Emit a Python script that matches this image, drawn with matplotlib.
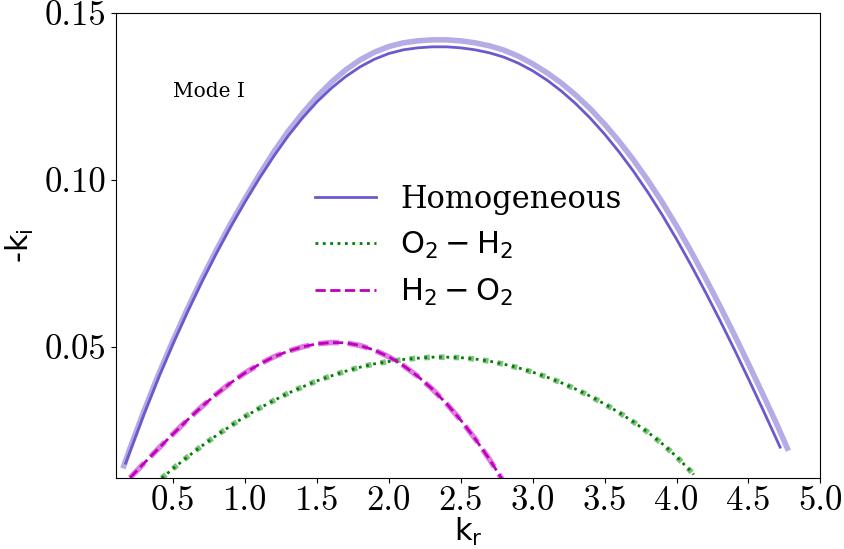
import matplotlib
matplotlib.use('Agg')
import matplotlib.pyplot as plt
from matplotlib.ticker import MultipleLocator

# homogeneous case, thin curve
kr_hom = [0.17, 0.2, 0.3, 0.4, 0.5, 0.6, 0.7, 0.8, 0.9, 1.0, 1.1, 1.2, 1.3, 1.4, 1.5,
          1.6, 1.7, 1.8, 1.9, 2.0, 2.1, 2.2, 2.3, 2.4, 2.5, 2.6, 2.7, 2.8, 2.9, 3.0,
          3.1, 3.2, 3.3, 3.4, 3.5, 3.6, 3.7, 3.8, 3.9, 4.0, 4.1, 4.2, 4.3, 4.4, 4.5,
          4.6, 4.7, 4.72]
ki_hom = [0.0150, 0.0185, 0.0300, 0.0408, 0.0509, 0.0604, 0.0694, 0.0779, 0.0859, 0.0934,
          0.1005, 0.1071, 0.1132, 0.1186, 0.1234, 0.1275, 0.1310, 0.1339, 0.1362, 0.1379,
          0.1390, 0.1396, 0.1399, 0.1399, 0.1396, 0.1390, 0.1381, 0.1368, 0.1350, 0.1327,
          0.1299, 0.1266, 0.1228, 0.1185, 0.1137, 0.1084, 0.1026, 0.0963, 0.0895, 0.0822,
          0.0745, 0.0664, 0.0580, 0.0493, 0.0403, 0.0311, 0.0217, 0.0198]

# homogeneous case, thick light curve
kr_hom2 = [0.157, 0.2, 0.3, 0.4, 0.5, 0.6, 0.7, 0.8, 0.9, 1.0, 1.1, 1.2, 1.3, 1.4, 1.5,
           1.6, 1.7, 1.8, 1.9, 2.0, 2.1, 2.2, 2.3, 2.4, 2.5, 2.6, 2.7, 2.8, 2.9, 3.0,
           3.1, 3.2, 3.3, 3.4, 3.5, 3.6, 3.7, 3.8, 3.9, 4.0, 4.1, 4.2, 4.3, 4.4, 4.5,
           4.6, 4.7, 4.77]
ki_hom2 = [0.0142, 0.0195, 0.0310, 0.0418, 0.0519, 0.0614, 0.0704, 0.0789, 0.0869, 0.0944,
           0.1016, 0.1084, 0.1146, 0.1200, 0.1250, 0.1293, 0.1330, 0.1360, 0.1383, 0.1400,
           0.1411, 0.1417, 0.1420, 0.1420, 0.1417, 0.1411, 0.1402, 0.1389, 0.1371, 0.1348,
           0.1321, 0.1290, 0.1254, 0.1213, 0.1167, 0.1116, 0.1060, 0.0999, 0.0933, 0.0862,
           0.0786, 0.0706, 0.0623, 0.0537, 0.0448, 0.0357, 0.0264, 0.0195]

# O2 - H2
kr_oh = [0.42, 0.5, 0.6, 0.7, 0.8, 0.9, 1.0, 1.1, 1.2, 1.3, 1.4, 1.5, 1.6, 1.7, 1.8,
         1.9, 2.0, 2.1, 2.2, 2.3, 2.4, 2.5, 2.6, 2.7, 2.8, 2.9, 3.0, 3.1, 3.2, 3.3,
         3.4, 3.5, 3.6, 3.7, 3.8, 3.9, 4.0, 4.1, 4.12]
ki_oh = [0.0105, 0.0134, 0.0169, 0.0202, 0.0233, 0.0262, 0.0290, 0.0315, 0.0338, 0.0360,
         0.0379, 0.0397, 0.0412, 0.0426, 0.0438, 0.0448, 0.0455, 0.0461, 0.0465, 0.0468,
         0.0468, 0.04665, 0.04625, 0.0456, 0.0447, 0.0436, 0.0423, 0.0408, 0.0391, 0.0372,
         0.0351, 0.03275, 0.0302, 0.0274, 0.0243, 0.02085, 0.01695, 0.01255, 0.0116]

# H2 - O2
kr_ho = [0.2, 0.3, 0.4, 0.5, 0.6, 0.7, 0.8, 0.9, 1.0, 1.1, 1.2, 1.3, 1.4, 1.5, 1.6,
         1.7, 1.8, 1.9, 2.0, 2.1, 2.2, 2.3, 2.4, 2.5, 2.6, 2.7, 2.8]
ki_ho = [0.0106, 0.0151, 0.0195, 0.0238, 0.0280, 0.0320, 0.0357, 0.0391, 0.0421, 0.0447,
         0.0469, 0.0486, 0.0499, 0.0508, 0.0512, 0.0511, 0.0503, 0.0489, 0.0469, 0.0443,
         0.0411, 0.0373, 0.0329, 0.0279, 0.0223, 0.0161, 0.0093]

fig = plt.figure(figsize=(8.44, 5.49), dpi=100)
ax = fig.add_axes([0.137, 0.129, 0.835, 0.847])

# thick light curves underneath
ax.plot(kr_hom2, ki_hom2, color='slateblue', lw=4, alpha=0.5)
ax.plot(kr_oh, ki_oh, ':', color='g', lw=4, alpha=0.5)
ax.plot(kr_ho, ki_ho, '--', color='m', lw=4, alpha=0.5)

ax.plot(kr_hom, ki_hom, color='slateblue', lw=2, label='Homogeneous')
ax.plot(kr_oh, ki_oh, ':', color='g', lw=2, label=r'$\mathrm{O_2-H_2}$')
ax.plot(kr_ho, ki_ho, '--', color='m', lw=2, label=r'$\mathrm{H_2-O_2}$')

ax.set_xlim(0.1, 5.0)
ax.set_ylim(0.0105, 0.15)
ax.xaxis.set_major_locator(MultipleLocator(0.5))
ax.yaxis.set_major_locator(MultipleLocator(0.05))
ax.tick_params(axis='x', pad=2)
for lab in ax.get_xticklabels() + ax.get_yticklabels():
    lab.set_fontfamily('cmr10')
    lab.set_fontsize(25)

ax.text(0.5, 0.125, 'Mode I', family='DejaVu Serif', fontsize=14.5)
ax.set_xlabel(r'k$_\mathrm{r}$', fontsize=22, labelpad=-1)
ax.set_ylabel(r'-k$_\mathrm{i}$', fontsize=22, labelpad=6)

leg = ax.legend(loc='center', frameon=False, fontsize=22)
leg.get_texts()[0].set_fontfamily('DejaVu Serif')

fig.savefig('out.png', dpi=100)
